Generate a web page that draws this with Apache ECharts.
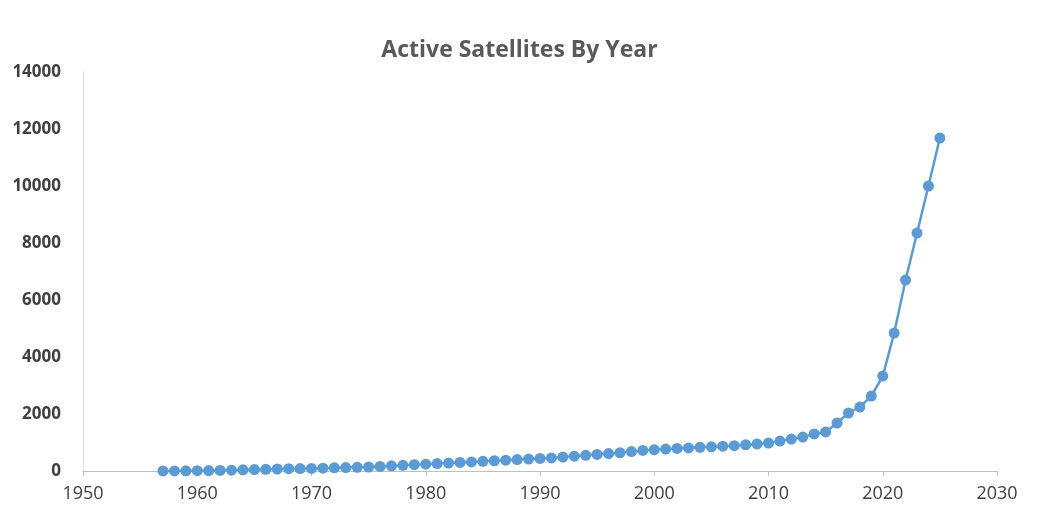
<!DOCTYPE html>
<html><head><meta charset="utf-8">
<script src="https://cdn.jsdelivr.net/npm/echarts@6/dist/echarts.min.js"></script>
<style>html,body{margin:0;padding:0;background:#fff}#c{width:1039px;height:529px}</style>
</head><body><div id="c"></div>
<script>
const years = [];
for (let y = 1957; y <= 2025; y++) years.push(y);
const satellites = [2,4,7,10,15,20,30,40,50,60,70,80,85,90,100,110,120,130,140,160,180,200,220,240,260,280,300,320,340,360,380,400,420,440,460,490,520,550,580,610,640,680,720,750,770,790,810,830,850,870,890,920,950,
980,1050,1120,1190,1300,1370,1684,2035,2245,2630,3330,4840,6700,8350,10000,11684];
const data = years.map((y,i)=>[y,satellites[i]]);
const chart = echarts.init(document.getElementById('c'));
chart.setOption({
  animation:false,
  title:{text:'Active Satellites By Year',left:'center',top:34,textStyle:{fontFamily:'Open Sans',fontWeight:'bold',fontSize:23,color:'#595959'}},
  grid:{left:83,right:42,top:72,bottom:58},
  xAxis:{type:'value',min:1950,max:2030,interval:10,
    axisLine:{lineStyle:{color:'#bfbfbf'}},axisTick:{show:true,length:5,lineStyle:{color:'#bfbfbf'}},
    splitLine:{show:false},axisLabel:{formatter:v=>String(v),fontFamily:'Open Sans',fontSize:18,color:'#404040',margin:14}},
  yAxis:{type:'value',min:0,max:14000,interval:2000,
    axisLine:{show:true,lineStyle:{color:'#d9d9d9'}},axisTick:{show:false},
    splitLine:{show:false},axisLabel:{formatter:v=>String(v),fontFamily:'Open Sans',fontWeight:'bold',fontSize:17,color:'#404040',margin:22}},
  series:[{type:'line',data:data,symbol:'circle',symbolSize:11,
    lineStyle:{color:'#5b9bd5',width:2.5},itemStyle:{color:'#5b9bd5'}}]
});
</script></body></html>
